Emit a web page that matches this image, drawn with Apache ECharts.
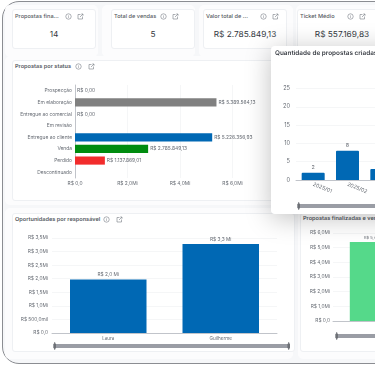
<!DOCTYPE html>
<html><head><meta charset="utf-8">
<script src="https://cdn.jsdelivr.net/npm/echarts@6/dist/echarts.min.js"></script>
<style>
html,body{margin:0;padding:0;background:#fff;width:375px;height:366px;overflow:hidden;font-family:Inter,sans-serif;text-rendering:geometricPrecision}
#frame{position:absolute;left:2px;top:1px;width:420px;height:363px;box-sizing:border-box;border:1.5px solid #8b8d92;border-radius:17px;background:#f6f7f9;overflow:hidden}
.outer{position:absolute;background:#fcfcfd;border-radius:5px}
.card{position:absolute;background:#fff;border:1px solid #eef0f3;border-radius:3px;box-sizing:border-box}
.t{position:absolute;font-size:5.6px;font-weight:500;color:#555a62;white-space:nowrap;line-height:8px}
.v{position:absolute;color:#33373e;white-space:nowrap;text-align:center;line-height:12px}
.i{position:absolute;width:7px;height:7px}
.i svg{display:block}
.c{position:absolute}
#pop{position:absolute;left:271px;top:46px;width:200px;height:168px;background:#fff;border-radius:4px;box-shadow:0 4px 26px rgba(0,0,0,.25);overflow:hidden;z-index:5}
</style></head><body>
<div id="frame"></div>
<div id="root"></div>
<div id="pop"></div>
<script>
var kpiTitles=['Propostas fina...','Total de vendas','Valor total de ...','Ticket Médio'];
var kpiValues=['14','5','R$ 2.785.849,13','R$ 557.169,83'];
var statusCats=['Prospecção','Em elaboração','Entregue ao comercial','Em revisão','Entregue ao cliente','Venda','Perdido','Descontinuado'];
var statusVals=[0,5389564.13,0,null,5226356.93,2785849.13,1137869.01,null];
var statusCols=['#808080','#808080','#808080','#808080','#0068b4','#008c0f','#f22c2c','#808080'];
var monthCats=['2025/01','2025/02','2025/03'];
var monthVals=[2,8,3];
var ownerCats=['Laura','Guilherme'];
var ownerVals=[1970000,3280000];
var finalCats=['Propostas finalizadas'];
var finalVals=[5389564];

var F='Inter, sans-serif', G='#666b73', L='#f1f2f4', A='#b4b8be';
function el(cls,css,parent,txt){var d=document.createElement('div');d.className=cls;d.style.cssText=css;if(txt!=null)d.textContent=txt;(parent||document.getElementById('root')).appendChild(d);return d;}
function icons(x,y,gap){
 var a=el('i','left:'+x+'px;top:'+y+'px');
 a.innerHTML='<svg width="7" height="7" viewBox="0 0 14 14" fill="none" stroke="#777c84" stroke-width="1.2"><circle cx="7" cy="7" r="5.4"/><path d="M7 6.5v3M7 4.2v1"/></svg>';
 var b=el('i','left:'+(x+gap)+'px;top:'+y+'px');
 b.innerHTML='<svg width="7" height="7" viewBox="0 0 14 14" fill="none" stroke="#777c84" stroke-width="1.2"><path d="M7 3H2v9h9V7M6 8l6-6M8.5 2H12v3.5"/></svg>';
}
function moneyMi(v){return v===0?'R$ 0,0':'R$ '+(v/1e6).toFixed(1).replace('.',',')+'Mi';}
function brl(v){var p=v.toFixed(2).split('.');return 'R$ '+p[0].replace(/\B(?=(\d{3})+$)/g,'.')+','+p[1];}
function chart(left,top,w,h,parent){var d=el('c','left:'+left+'px;top:'+top+'px;width:'+w+'px;height:'+h+'px',parent);return echarts.init(d,null,{renderer:'canvas'});}
function slider(l,r,t){return {type:'slider',xAxisIndex:0,left:l,right:r,top:t,height:4,showDetail:false,showDataShadow:false,brushSelect:false,backgroundColor:'#dde3ee',borderColor:'transparent',fillerColor:'#9a9da5',handleSize:'190%',handleStyle:{color:'#6d7076',borderColor:'#6d7076'},moveHandleSize:0,start:0,end:100};}

// panels
[[5,5,93,52],[102,5,93,52],[199,5,94,52],[296,5,94,52],[5,56,300,149],[5,208,288,151],[298,208,120,151]].forEach(function(r){
 el('outer','left:'+r[0]+'px;top:'+r[1]+'px;width:'+r[2]+'px;height:'+r[3]+'px');});
// KPI cards
var kx=[12,111,203,297], kw=[84,84,84,90], ki=[65,160,260,347];
kpiTitles.forEach(function(t,i){
 el('card','left:'+kx[i]+'px;top:9px;width:'+kw[i]+'px;height:40px');
 el('t','left:'+(kx[i]+3)+'px;top:13px',null,t);
 icons(ki[i],13,12);
 el('v','left:'+kx[i]+'px;top:29px;width:'+kw[i]+'px;font-size:8.3px',null,kpiValues[i]);
});
// status card
el('card','left:12px;top:60px;width:290px;height:141px');
el('t','left:15px;top:63px;font-weight:600',null,'Propostas por status');icons(75,63,13);
chart(12,70,290,125).setOption({animation:false,textStyle:{fontFamily:F},
 grid:{left:63,top:15,width:157.5,height:93},
 xAxis:{type:'value',min:0,max:6000000,interval:2000000,axisLine:{show:false},axisTick:{show:false},
  splitLine:{lineStyle:{color:L,width:.7}},axisLabel:{color:G,fontSize:4.9,margin:3,formatter:moneyMi}},
 yAxis:{type:'category',inverse:true,data:statusCats,axisLine:{lineStyle:{color:A,width:.8}},axisTick:{show:false},
  axisLabel:{color:G,fontSize:4.9,margin:3,interval:0}},
 series:[{type:'bar',barWidth:'70%',data:statusVals.map(function(v,i){return {value:v,itemStyle:{color:statusCols[i]}};}),
  label:{show:true,position:'right',distance:2,fontSize:4.9,color:G,formatter:function(p){return p.value==null?'':brl(p.value);}}}]
});
// owner card
el('card','left:12px;top:213px;width:283px;height:139px');
el('t','left:15px;top:216px;font-weight:600',null,'Oportunidades por responsável');icons(103,216,13);
chart(12,224,283,128).setOption({animation:false,textStyle:{fontFamily:F},
 grid:{left:40,top:14,width:225,height:95},
 xAxis:{type:'category',data:ownerCats,axisLine:{lineStyle:{color:A,width:.8}},axisTick:{length:2,lineStyle:{color:A}},axisLabel:{color:G,fontSize:4.6,margin:3}},
 yAxis:{type:'value',min:0,max:3500000,interval:500000,axisLine:{show:false},axisTick:{show:false},
  splitLine:{lineStyle:{color:L,width:.7}},axisLabel:{color:G,fontSize:4.8,margin:4,formatter:function(v){return v===0?'R$ 0,0':v<1e6?'R$ '+(v/1e3).toFixed(1).replace('.',',')+'mil':moneyMi(v);}}},
 dataZoom:[slider(41,6,120)],
 series:[{type:'bar',barWidth:'68%',data:ownerVals,itemStyle:{color:'#0068b4'},
  label:{show:true,position:'top',distance:2,fontSize:4.8,color:G,formatter:function(p){return 'R$ '+(p.value/1e6).toFixed(1).replace('.',',')+' Mi';}}}]
});
// final card
el('card','left:300px;top:213px;width:115px;height:139px');
el('t','left:303px;top:215px;font-weight:600',null,'Propostas finalizadas e vendas');
chart(300,224,130,128).setOption({animation:false,textStyle:{fontFamily:F},
 grid:{left:33,top:9,width:80,height:88},
 xAxis:{type:'category',data:finalCats,axisLine:{lineStyle:{color:A,width:.8}},axisTick:{show:false},axisLabel:{show:false}},
 yAxis:{type:'value',min:0,max:6000000,interval:1000000,axisLine:{show:false},axisTick:{show:false},
  splitLine:{lineStyle:{color:L,width:.7}},axisLabel:{color:G,fontSize:4.8,margin:3,formatter:moneyMi}},
 dataZoom:[slider(35,17,110)],
 series:[{type:'bar',barWidth:'58%',data:finalVals,itemStyle:{color:'#55d98a'},
  label:{show:true,position:'top',distance:2,fontSize:4,color:G,formatter:function(p){return 'R$ '+(p.value/1e6).toFixed(1).replace('.',',')+' Mi';}}}]
});
// popup
var pop=document.getElementById('pop');
el('t','left:4px;top:3px;font-size:6.4px;font-weight:600;color:#3b3f46;line-height:9px',pop,'Quantidade de propostas criadas');
chart(0,0,200,168,pop).setOption({animation:false,textStyle:{fontFamily:F},
 grid:{left:25,top:42.5,width:103,height:91.5},
 xAxis:{type:'category',data:monthCats,axisLine:{lineStyle:{color:A,width:.8}},axisTick:{length:2,lineStyle:{color:A}},axisLabel:{color:G,fontSize:5.2,rotate:-22,margin:4,interval:0}},
 yAxis:{type:'value',min:0,max:25,interval:5,axisLine:{show:false},axisTick:{show:false},
  splitLine:{lineStyle:{color:L,width:.7}},axisLabel:{color:G,fontSize:5.6,margin:6}},
 dataZoom:[slider(26,0,158)],
 series:[{type:'bar',barWidth:'67%',data:monthVals,itemStyle:{color:'#0068b4',borderRadius:[1,1,0,0]},
  label:{show:true,position:'top',distance:3,fontSize:5.4,color:G}}]
});
</script></body></html>
